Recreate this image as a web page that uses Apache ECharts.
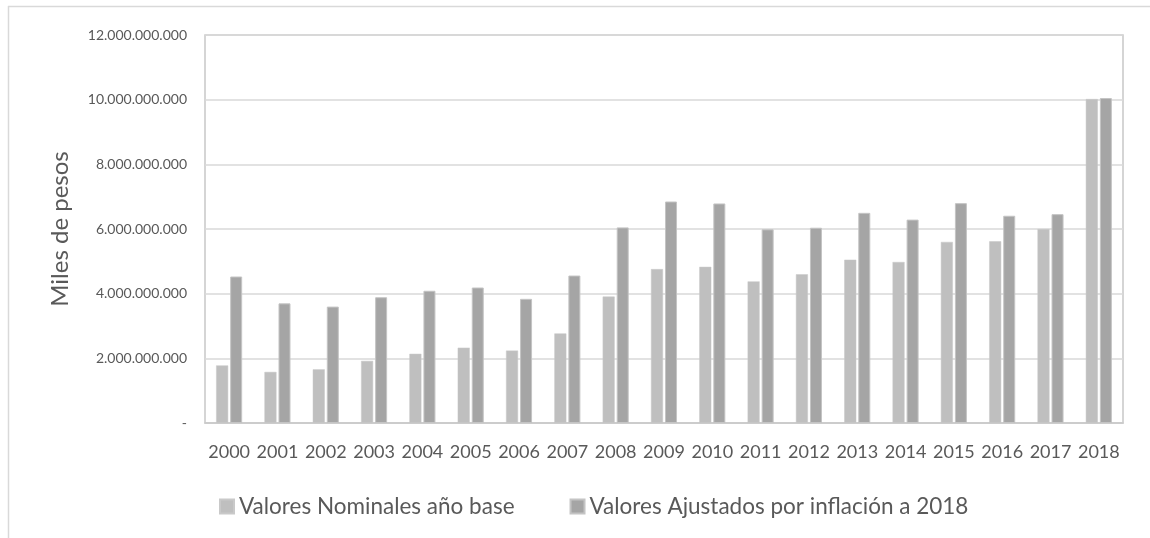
<!DOCTYPE html>
<html>
<head>
<meta charset="utf-8">
<script src="https://cdn.jsdelivr.net/npm/echarts@6/dist/echarts.min.js"></script>
<style>
  html, body { margin: 0; padding: 0; background: #ffffff; }
  #chart { width: 1150px; height: 538px; }
</style>
</head>
<body>
<div id="chart"></div>
<script>
// Años del periodo
const years = ['2000','2001','2002','2003','2004','2005','2006','2007','2008','2009',
               '2010','2011','2012','2013','2014','2015','2016','2017','2018'];

// Valores en miles de pesos
const nominales = [1780000000, 1580000000, 1660000000, 1920000000, 2140000000, 2330000000,
                   2240000000, 2770000000, 3910000000, 4760000000, 4830000000, 4380000000,
                   4600000000, 5050000000, 4980000000, 5600000000, 5620000000, 6000000000,
                   10020000000];
const ajustados = [4530000000, 3700000000, 3600000000, 3890000000, 4090000000, 4190000000,
                   3840000000, 4560000000, 6050000000, 6850000000, 6790000000, 5990000000,
                   6040000000, 6500000000, 6290000000, 6800000000, 6410000000, 6460000000,
                   10050000000];

const seriesNames = ['Valores Nominales año base', 'Valores Ajustados por inflación a 2018'];
const axisTitle = 'Miles de pesos';

const FONT = 'Lato, "Noto Sans", sans-serif';
const TEXT = '#595959';

// Separador de miles con punto; el cero se muestra como guion
function formatMiles(v) {
  if (v === 0) return '-';
  return String(Math.round(v)).replace(/\B(?=(\d{3})+(?!\d))/g, '.');
}

const chart = echarts.init(document.getElementById('chart'), null, { renderer: 'canvas' });

chart.setOption({
  animation: false,
  backgroundColor: '#ffffff',
  textStyle: { fontFamily: FONT },
  graphic: [
    { type: 'line', shape: { x1: 8.5, y1: 6, x2: 8.5, y2: 538 },
      style: { stroke: '#d9d9d9', lineWidth: 1.5 } },
    { type: 'line', shape: { x1: 8, y1: 6.5, x2: 1150, y2: 6.5 },
      style: { stroke: '#d9d9d9', lineWidth: 1.5 } }
  ],
  grid: {
    left: 205, right: 27, top: 35, bottom: 115,
    show: true, borderColor: '#c8c8c8', borderWidth: 1.5,
    containLabel: false
  },
  legend: {
    data: seriesNames,
    left: 214, top: 490,
    itemWidth: 14, itemHeight: 14, itemGap: 55,
    icon: 'rect',
    textStyle: { fontFamily: FONT, fontSize: 22.5, color: TEXT }
  },
  xAxis: {
    type: 'category',
    data: years,
    axisLine: { show: true, lineStyle: { color: '#c8c8c8', width: 1.5 } },
    axisTick: { show: false },
    axisLabel: { color: TEXT, fontFamily: FONT, fontSize: 18, margin: 20, interval: 0 }
  },
  yAxis: {
    type: 'value',
    min: 0, max: 12000000000, interval: 2000000000,
    name: axisTitle,
    nameLocation: 'middle',
    nameRotate: 90,
    nameGap: 133,
    nameTextStyle: { color: TEXT, fontFamily: FONT, fontSize: 24 },
    axisLine: { show: false },
    axisTick: { show: false },
    splitLine: { show: true, lineStyle: { color: '#d9d9d9', width: 1.5 } },
    axisLabel: { color: TEXT, fontFamily: FONT, fontSize: 14, margin: 18, formatter: formatMiles }
  },
  series: [
    {
      name: seriesNames[0],
      type: 'bar',
      data: nominales,
      barWidth: 12,
      barGap: '17%',
      itemStyle: { color: '#bfbfbf', borderColor: '#c9c9c9', borderWidth: 0.5 }
    },
    {
      name: seriesNames[1],
      type: 'bar',
      data: ajustados,
      barWidth: 12,
      barGap: '17%',
      itemStyle: { color: '#a5a5a5', borderColor: '#c4c4c4', borderWidth: 1 }
    }
  ]
});
</script>
</body>
</html>
